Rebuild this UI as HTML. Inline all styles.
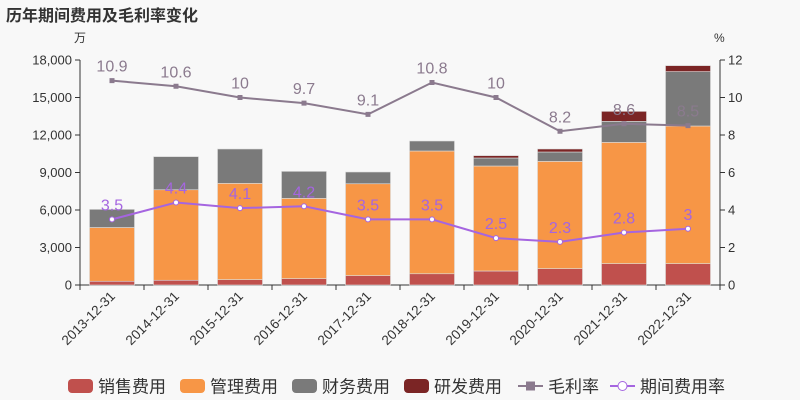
<!DOCTYPE html>
<html><head><meta charset="utf-8"><style>
body{margin:0;background:#f8f8f8;}
svg{display:block;font-family:"Liberation Sans","Noto Sans CJK SC",sans-serif;}
</style></head><body>
<svg id="c" width="800" height="400">
<rect width="800" height="400" fill="#f8f8f8"/>
<text x="6" y="21" font-size="16" font-weight="bold" fill="#333">历年期间费用及毛利率变化</text>
<text x="74" y="42" font-size="12" fill="#333">万</text>
<text x="714" y="42" font-size="12" fill="#333">%</text>
<g id="g"></g>
</svg>
<script>
const categories=["2013-12-31","2014-12-31","2015-12-31","2016-12-31","2017-12-31","2018-12-31","2019-12-31","2020-12-31","2021-12-31","2022-12-31"];
const sales=[300,380,430,510,750,900,1120,1310,1710,1710];
const mgmt=[4300,7240,7700,6420,7350,9820,8400,8580,9700,11010];
const fin=[1450,2650,2750,2160,940,800,640,750,1680,4350];
const rd=[0,0,0,0,0,0,190,240,800,480];
const gross=[10.9,10.6,10,9.7,9.1,10.8,10,8.2,8.6,8.5];
const period=[3.5,4.4,4.1,4.2,3.5,3.5,2.5,2.3,2.8,3];
const leftTicks=[0,3000,6000,9000,12000,15000,18000];
const rightTicks=[0,2,4,6,8,10,12];
const NS="http://www.w3.org/2000/svg",g=document.getElementById('g');
const X0=80,X1=720,Y0=285,Y1=60;
const bw=(X1-X0)/categories.length;
const xc=i=>X0+bw*(i+0.5);
const yl=v=>Y0-(v/18000)*(Y0-Y1);
const yr=v=>Y0-(v/12)*(Y0-Y1);
function mk(t,a,txt){const e=document.createElementNS(NS,t);for(const k in a)e.setAttribute(k,a[k]);if(txt!==undefined)e.textContent=txt;g.appendChild(e);return e;}
mk('line',{x1:X0,y1:Y1,x2:X0,y2:Y0,stroke:'#333'});
mk('line',{x1:X1,y1:Y1,x2:X1,y2:Y0,stroke:'#333'});
mk('line',{x1:X0,y1:Y0,x2:X1,y2:Y0,stroke:'#333'});
leftTicks.forEach(v=>{mk('line',{x1:X0-5,y1:yl(v),x2:X0,y2:yl(v),stroke:'#333'});
const t=mk('text',{x:X0-8,y:yl(v)+4.5,'text-anchor':'end','font-size':13,fill:'#333'},v.toLocaleString('en-US'));
});
rightTicks.forEach(v=>{mk('line',{x1:X1,y1:yr(v),x2:X1+5,y2:yr(v),stroke:'#333'});
const t=mk('text',{x:X1+8,y:yr(v)+4.5,'font-size':13,fill:'#333'},v);
});
for(let i=0;i<=categories.length;i++)mk('line',{x1:X0+bw*i,y1:Y0,x2:X0+bw*i,y2:Y0+5,stroke:'#333'});
categories.forEach((c,i)=>{const t=mk('text',{x:xc(i)+4,y:Y0+12,'text-anchor':'end','font-size':13.5,fill:'#333',transform:`rotate(-45 ${xc(i)+4} ${Y0+12})`},c);
});
const series=[[sales,'#c0504d','sales'],[mgmt,'#f79646','mgmt'],[fin,'#7a7a7a','fin'],[rd,'#7b2525','rd']];
categories.forEach((c,i)=>{let acc=0;series.forEach(s=>{const v=s[0][i];if(v<=0)return;
const r=mk('rect',{x:xc(i)-22.5,y:yl(acc+v),width:45,height:yl(acc)-yl(acc+v),fill:s[1],stroke:'#ddd','stroke-width':0.6});
acc+=v;});});
function line(data,col,name,mark){
const p=mk('polyline',{points:data.map((v,i)=>xc(i)+','+yr(v)).join(' '),fill:'none',stroke:col,'stroke-width':2});

data.forEach((v,i)=>{let m;if(mark==='sq')m=mk('rect',{x:xc(i)-2.5,y:yr(v)-2.5,width:5,height:5,fill:col});
else m=mk('circle',{cx:xc(i),cy:yr(v),r:2.5,fill:'#fff',stroke:col,'stroke-width':1});

const t=mk('text',{x:xc(i),y:yr(v)-9,'text-anchor':'middle','font-size':16,fill:col},v);
});}
line(gross,'#8b7a8e','gross-margin','sq');
line(period,'#a565e0','period-expense-rate','c');
const leg=[['销售费用','#c0504d','r'],['管理费用','#f79646','r'],['财务费用','#7a7a7a','r'],['研发费用','#7b2525','r'],['毛利率','#8b7a8e','sq'],['期间费用率','#a565e0','c']];
const lx=[68,180,292,404,518,610];
leg.forEach((l,i)=>{const x=lx[i],y=386;let m;
if(l[2]==='r')m=mk('rect',{x:x,y:y-7,width:25,height:14,rx:4,fill:l[1]});
else{mk('line',{x1:x,y1:y,x2:x+25,y2:y,stroke:l[1],'stroke-width':2});
m=l[2]==='sq'?mk('rect',{x:x+8,y:y-4.5,width:9,height:9,fill:l[1]}):mk('circle',{cx:x+12.5,cy:y,r:4.5,fill:'#fff',stroke:l[1],'stroke-width':1});}

const t=mk('text',{x:x+30,y:y+6.5,'font-size':17,fill:'#333'},l[0]);
});
</script>
</body></html>
